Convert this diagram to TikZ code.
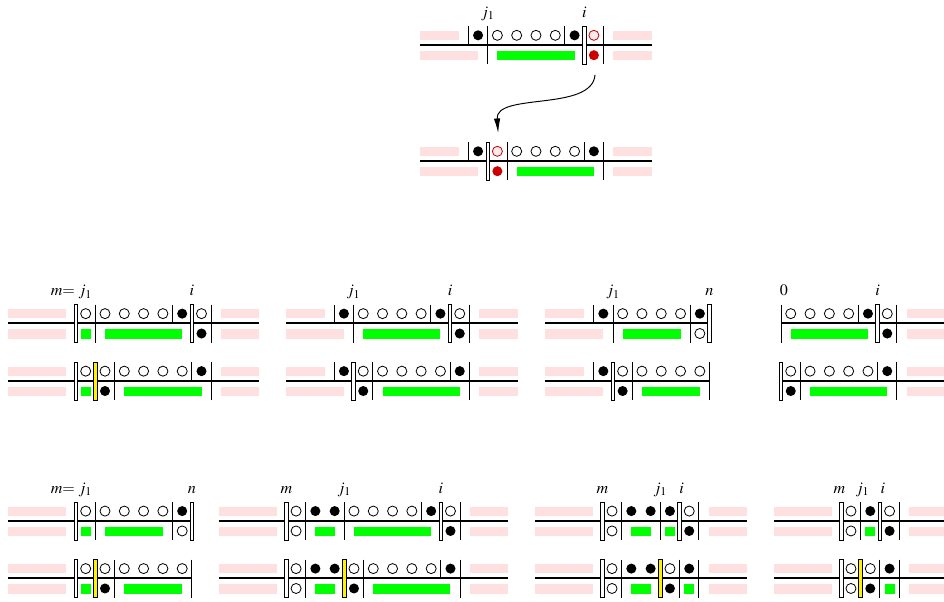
\documentclass[tikz,border=0pt]{standalone}
\usepackage{amsmath}
\usepackage{amssymb}
\usepackage{tikz}
\usepackage{xcolor}
\usepackage{mathptmx}
\usetikzlibrary{shapes, positioning, arrows.meta}

\definecolor{pinkbg}{RGB}{255,224,224}
\definecolor{darkred}{RGB}{204,0,0}

\tikzset{
    axisline/.style={line width=1.3pt},
    tickline/.style={line width=0.55pt},
    opendot/.style={draw, line width=0.5pt, fill=white},
    wallbar/.style={draw, line width=0.5pt, fill=white},
    yellowbar/.style={draw, line width=0.5pt, fill=yellow},
    lbl/.style={anchor=base, font=\normalsize, inner sep=0pt},
}

\begin{document}
\begin{tikzpicture}[x=12pt, y=12pt]
        \useasboundingbox (0,0) rectangle (48.91,-31.19);

        % top: before
        \begin{scope}[shift={(24.77,-2.33)}]
            \foreach \a/\b in {-3/-1, 7/9} \fill[pinkbg] (\a,0.26) rectangle (\b,0.73);
            \foreach \a/\b in {-3/0, 7/9} \fill[pinkbg] (\a,-0.32) rectangle (\b,-0.8);
            \fill[green] (1,-0.32) rectangle (5,-0.8);
            \draw[axisline] (-3,0) -- (9,0);
            \foreach \x in {-0.5, 4.5} \draw[tickline] (\x,0) -- (\x,0.97);
            \foreach \x in {0.5, 6.5} \draw[tickline] (\x,0.97) -- (\x,-1);
            \draw[wallbar] (5.41,0.97) rectangle (5.59,-1);
            \foreach \x in {1,...,4} \draw[opendot] (\x,0.5) circle (0.26);
            \foreach \x in {0, 5} \fill (\x,0.5) circle (0.26);
            \draw[opendot, draw=darkred, fill=red!8] (6,0.5) circle (0.26);
            \fill[darkred] (6,-0.53) circle (0.26);
            \node[lbl] (topj) at (0.5,1.42) {$j_1$};
            \node[lbl] (topi) at (5.5,1.42) {$i$};
            \coordinate (arrowstart) at (6.06,-1.55);
        \end{scope}

        % top: after
        \begin{scope}[shift={(24.77,-8.34)}]
            \foreach \a/\b in {-3/-1, 7/9} \fill[pinkbg] (\a,0.26) rectangle (\b,0.73);
            \foreach \a/\b in {-3/0, 7/9} \fill[pinkbg] (\a,-0.32) rectangle (\b,-0.8);
            \fill[green] (2,-0.32) rectangle (6,-0.8);
            \draw[axisline] (-3,0) -- (9,0);
            \foreach \x in {-0.5, 5.5} \draw[tickline] (\x,0) -- (\x,0.97);
            \foreach \x in {1.5, 6.5} \draw[tickline] (\x,0.97) -- (\x,-1);
            \draw[wallbar] (0.41,0.97) rectangle (0.59,-1);
            \foreach \x in {2,...,5} \draw[opendot] (\x,0.5) circle (0.26);
            \foreach \x in {0, 6} \fill (\x,0.5) circle (0.26);
            \draw[opendot, draw=darkred, fill=red!8] (1,0.5) circle (0.26);
            \fill[darkred] (1,-0.53) circle (0.26);
            \coordinate (arrowend) at (1.04,1.45);
        \end{scope}

        \draw[line width=0.6pt, -{Latex[length=9pt, width=4pt]}] (arrowstart)
            .. controls +(-0.16,-1.92) and +(-0.16,2.12) .. (arrowend);

        % middle row, first pair
        \begin{scope}[shift={(4.44,-16.75)}]
            \foreach \a/\b in {-4/-1, 7/9} {
                \fill[pinkbg] (\a,0.26) rectangle (\b,0.73);
                \fill[pinkbg] (\a,-0.32) rectangle (\b,-0.8);
            }
            \foreach \a/\b in {-0.26/0.26, 1/5} \fill[green] (\a,-0.32) rectangle (\b,-0.8);
            \draw[axisline] (-4,0) -- (9,0);
            \foreach \x in {4.5} \draw[tickline] (\x,0) -- (\x,0.97);
            \foreach \x in {0.5, 6.5} \draw[tickline] (\x,0.97) -- (\x,-1);
            \foreach \x in {-0.5, 5.5} \draw[wallbar] (\x-0.09,0.97) rectangle (\x+0.09,-1);
            \foreach \x in {0,...,4, 6} \draw[opendot] (\x,0.5) circle (0.26);
            \foreach \x in {5} \fill (\x,0.5) circle (0.26);
            \foreach \x in {6} \fill (\x,-0.53) circle (0.26);
            \node[lbl, anchor=base east] (mam) at (0.35,1.42) {$m{=}\;j_1$};
            \node[lbl] (mai) at (5.5,1.42) {$i$};
        \end{scope}
        \begin{scope}[shift={(4.44,-19.73)}]
            \foreach \a/\b in {-4/-1, 7/9} {
                \fill[pinkbg] (\a,0.26) rectangle (\b,0.73);
                \fill[pinkbg] (\a,-0.32) rectangle (\b,-0.8);
            }
            \foreach \a/\b in {-0.26/0.26, 2/6} \fill[green] (\a,-0.32) rectangle (\b,-0.8);
            \draw[axisline] (-4,0) -- (9,0);
            \foreach \x in {5.5} \draw[tickline] (\x,0) -- (\x,0.97);
            \foreach \x in {1.5, 6.5} \draw[tickline] (\x,0.97) -- (\x,-1);
            \foreach \x in {-0.5} \draw[wallbar] (\x-0.09,0.97) rectangle (\x+0.09,-1);
            \draw[yellowbar] (0.41,0.97) rectangle (0.59,-1);
            \foreach \x in {0,...,5} \draw[opendot] (\x,0.5) circle (0.26);
            \foreach \x in {6} \fill (\x,0.5) circle (0.26);
            \foreach \x in {1} \fill (\x,-0.53) circle (0.26);
        \end{scope}

        % middle row, second pair
        \begin{scope}[shift={(17.82,-16.75)}]
            \foreach \a/\b in {-3/-1, 7/9} \fill[pinkbg] (\a,0.26) rectangle (\b,0.73);
            \foreach \a/\b in {-3/0, 7/9} \fill[pinkbg] (\a,-0.32) rectangle (\b,-0.8);
            \fill[green] (1,-0.32) rectangle (5,-0.8);
            \draw[axisline] (-3,0) -- (9,0);
            \foreach \x in {-0.5, 4.5} \draw[tickline] (\x,0) -- (\x,0.97);
            \foreach \x in {0.5, 6.5} \draw[tickline] (\x,0.97) -- (\x,-1);
            \foreach \x in {5.5} \draw[wallbar] (\x-0.09,0.97) rectangle (\x+0.09,-1);
            \foreach \x in {1,...,4, 6} \draw[opendot] (\x,0.5) circle (0.26);
            \foreach \x in {0, 5} \fill (\x,0.5) circle (0.26);
            \foreach \x in {6} \fill (\x,-0.53) circle (0.26);
            \node[lbl] (mbj) at (0.5,1.42) {$j_1$};
            \node[lbl] (mbi) at (5.5,1.42) {$i$};
        \end{scope}
        \begin{scope}[shift={(17.82,-19.73)}]
            \foreach \a/\b in {-3/-1, 7/9} \fill[pinkbg] (\a,0.26) rectangle (\b,0.73);
            \foreach \a/\b in {-3/0, 7/9} \fill[pinkbg] (\a,-0.32) rectangle (\b,-0.8);
            \fill[green] (2,-0.32) rectangle (6,-0.8);
            \draw[axisline] (-3,0) -- (9,0);
            \foreach \x in {-0.5, 5.5} \draw[tickline] (\x,0) -- (\x,0.97);
            \foreach \x in {1.5, 6.5} \draw[tickline] (\x,0.97) -- (\x,-1);
            \foreach \x in {0.5} \draw[wallbar] (\x-0.09,0.97) rectangle (\x+0.09,-1);
            \foreach \x in {1,...,5} \draw[opendot] (\x,0.5) circle (0.26);
            \foreach \x in {0, 6} \fill (\x,0.5) circle (0.26);
            \foreach \x in {1} \fill (\x,-0.53) circle (0.26);
        \end{scope}

        % middle row, third pair
        \begin{scope}[shift={(31.26,-16.75)}]
            \fill[pinkbg] (-3,0.26) rectangle (-1,0.73);
            \fill[pinkbg] (-3,-0.32) rectangle (0,-0.8);
            \fill[green] (1,-0.32) rectangle (4,-0.8);
            \draw[axisline] (-3,0) -- (5.5,0);
            \foreach \x in {-0.5} \draw[tickline] (\x,0) -- (\x,0.97);
            \foreach \x in {0.5, 4.5} \draw[tickline] (\x,0.97) -- (\x,-1);
            \foreach \x in {5.5} \draw[wallbar] (\x-0.09,0.97) rectangle (\x+0.09,-1);
            \foreach \x in {1,...,4} \draw[opendot] (\x,0.5) circle (0.26);
            \foreach \x in {0, 5} \fill (\x,0.5) circle (0.26);
            \foreach \x in {5} \draw[opendot] (\x,-0.53) circle (0.26);
            \node[lbl] (mcj) at (0.5,1.42) {$j_1$};
            \node[lbl] (mcn) at (5.5,1.42) {$n$};
        \end{scope}
        \begin{scope}[shift={(31.26,-19.73)}]
            \fill[pinkbg] (-3,0.26) rectangle (-1,0.73);
            \fill[pinkbg] (-3,-0.32) rectangle (0,-0.8);
            \fill[green] (2,-0.32) rectangle (5,-0.8);
            \draw[axisline] (-3,0) -- (5.5,0);
            \foreach \x in {-0.5} \draw[tickline] (\x,0) -- (\x,0.97);
            \foreach \x in {1.5, 5.5} \draw[tickline] (\x,0.97) -- (\x,-1);
            \foreach \x in {0.5} \draw[wallbar] (\x-0.09,0.97) rectangle (\x+0.09,-1);
            \foreach \x in {1,...,5} \draw[opendot] (\x,0.5) circle (0.26);
            \foreach \x in {0} \fill (\x,0.5) circle (0.26);
            \foreach \x in {1} \fill (\x,-0.53) circle (0.26);
        \end{scope}

        % middle row, fourth pair
        \begin{scope}[shift={(40.97,-16.75)}]
            \fill[pinkbg] (6,0.26) rectangle (8,0.73);
            \fill[pinkbg] (6,-0.32) rectangle (8,-0.8);
            \fill[green] (0,-0.32) rectangle (4,-0.8);
            \draw[axisline] (-0.5,0) -- (8,0);
            \foreach \x in {3.5} \draw[tickline] (\x,0) -- (\x,0.97);
            \foreach \x in {-0.5, 5.5} \draw[tickline] (\x,0.97) -- (\x,-1);
            \foreach \x in {4.5} \draw[wallbar] (\x-0.09,0.97) rectangle (\x+0.09,-1);
            \foreach \x in {0,...,3, 5} \draw[opendot] (\x,0.5) circle (0.26);
            \foreach \x in {4} \fill (\x,0.5) circle (0.26);
            \foreach \x in {5} \fill (\x,-0.53) circle (0.26);
            \node[lbl] (md0) at (-0.35,1.42) {$0$};
            \node[lbl] (mdi) at (4.5,1.42) {$i$};
        \end{scope}
        \begin{scope}[shift={(40.97,-19.73)}]
            \fill[pinkbg] (6,0.26) rectangle (8,0.73);
            \fill[pinkbg] (6,-0.32) rectangle (8,-0.8);
            \fill[green] (1,-0.32) rectangle (5,-0.8);
            \draw[axisline] (-0.5,0) -- (8,0);
            \foreach \x in {4.5} \draw[tickline] (\x,0) -- (\x,0.97);
            \foreach \x in {0.5, 5.5} \draw[tickline] (\x,0.97) -- (\x,-1);
            \foreach \x in {-0.5} \draw[wallbar] (\x-0.09,0.97) rectangle (\x+0.09,-1);
            \foreach \x in {0,...,4} \draw[opendot] (\x,0.5) circle (0.26);
            \foreach \x in {5} \fill (\x,0.5) circle (0.26);
            \foreach \x in {0} \fill (\x,-0.53) circle (0.26);
        \end{scope}

        % bottom row, first pair
        \begin{scope}[shift={(4.44,-26.98)}]
            \fill[pinkbg] (-4,0.26) rectangle (-1,0.73);
            \fill[pinkbg] (-4,-0.32) rectangle (-1,-0.8);
            \foreach \a/\b in {-0.26/0.26, 1/4} \fill[green] (\a,-0.32) rectangle (\b,-0.8);
            \draw[axisline] (-4,0) -- (5.5,0);
            \foreach \x in {0.5, 4.5} \draw[tickline] (\x,0.97) -- (\x,-1);
            \foreach \x in {-0.5, 5.5} \draw[wallbar] (\x-0.09,0.97) rectangle (\x+0.09,-1);
            \foreach \x in {0,...,4} \draw[opendot] (\x,0.5) circle (0.26);
            \foreach \x in {5} \fill (\x,0.5) circle (0.26);
            \foreach \x in {5} \draw[opendot] (\x,-0.53) circle (0.26);
            \node[lbl, anchor=base east] (bam) at (0.35,1.42) {$m{=}\;j_1$};
            \node[lbl] (ban) at (5.5,1.42) {$n$};
        \end{scope}
        \begin{scope}[shift={(4.44,-29.96)}]
            \fill[pinkbg] (-4,0.26) rectangle (-1,0.73);
            \fill[pinkbg] (-4,-0.32) rectangle (-1,-0.8);
            \foreach \a/\b in {-0.26/0.26, 2/5} \fill[green] (\a,-0.32) rectangle (\b,-0.8);
            \draw[axisline] (-4,0) -- (5.5,0);
            \foreach \x in {1.5, 5.5} \draw[tickline] (\x,0.97) -- (\x,-1);
            \foreach \x in {-0.5} \draw[wallbar] (\x-0.09,0.97) rectangle (\x+0.09,-1);
            \draw[yellowbar] (0.41,0.97) rectangle (0.59,-1);
            \foreach \x in {0,...,5} \draw[opendot] (\x,0.5) circle (0.26);
            \foreach \x in {1} \fill (\x,-0.53) circle (0.26);
        \end{scope}

        % bottom row, second pair
        \begin{scope}[shift={(15.34,-26.98)}]
            \foreach \a/\b in {-4/-1, 9/11} {
                \fill[pinkbg] (\a,0.26) rectangle (\b,0.73);
                \fill[pinkbg] (\a,-0.32) rectangle (\b,-0.8);
            }
            \foreach \a/\b in {1/2, 3/7} \fill[green] (\a,-0.32) rectangle (\b,-0.8);
            \draw[axisline] (-4,0) -- (11,0);
            \foreach \x in {6.5} \draw[tickline] (\x,0) -- (\x,0.97);
            \foreach \x in {0.5, 2.5, 8.5} \draw[tickline] (\x,0.97) -- (\x,-1);
            \foreach \x in {-0.5, 7.5} \draw[wallbar] (\x-0.09,0.97) rectangle (\x+0.09,-1);
            \foreach \x in {0, 3, 4, 5, 6, 8} \draw[opendot] (\x,0.5) circle (0.26);
            \foreach \x in {1, 2, 7} \fill (\x,0.5) circle (0.26);
            \foreach \x in {0} \draw[opendot] (\x,-0.53) circle (0.26);
            \foreach \x in {8} \fill (\x,-0.53) circle (0.26);
            \node[lbl] (bbm) at (-0.5,1.42) {$m$};
            \node[lbl] (bbj) at (2.5,1.42) {$j_1$};
            \node[lbl] (bbi) at (7.5,1.42) {$i$};
        \end{scope}
        \begin{scope}[shift={(15.34,-29.96)}]
            \foreach \a/\b in {-4/-1, 9/11} {
                \fill[pinkbg] (\a,0.26) rectangle (\b,0.73);
                \fill[pinkbg] (\a,-0.32) rectangle (\b,-0.8);
            }
            \foreach \a/\b in {1/2, 4/8} \fill[green] (\a,-0.32) rectangle (\b,-0.8);
            \draw[axisline] (-4,0) -- (11,0);
            \foreach \x in {7.5} \draw[tickline] (\x,0) -- (\x,0.97);
            \foreach \x in {0.5, 3.5, 8.5} \draw[tickline] (\x,0.97) -- (\x,-1);
            \foreach \x in {-0.5} \draw[wallbar] (\x-0.09,0.97) rectangle (\x+0.09,-1);
            \draw[yellowbar] (2.41,0.97) rectangle (2.59,-1);
            \foreach \x in {0, 3, 4, 5, 6, 7} \draw[opendot] (\x,0.5) circle (0.26);
            \foreach \x in {1, 2, 8} \fill (\x,0.5) circle (0.26);
            \foreach \x in {0} \draw[opendot] (\x,-0.53) circle (0.26);
            \foreach \x in {3} \fill (\x,-0.53) circle (0.26);
        \end{scope}

        % bottom row, third pair
        \begin{scope}[shift={(31.71,-26.98)}]
            \foreach \a/\b in {-4/-1, 5/7} {
                \fill[pinkbg] (\a,0.26) rectangle (\b,0.73);
                \fill[pinkbg] (\a,-0.32) rectangle (\b,-0.8);
            }
            \foreach \a/\b in {1/2, 2.74/3.26} \fill[green] (\a,-0.32) rectangle (\b,-0.8);
            \draw[axisline] (-4,0) -- (7,0);
            \foreach \x in {0.5, 2.5, 4.5} \draw[tickline] (\x,0.97) -- (\x,-1);
            \foreach \x in {-0.5, 3.5} \draw[wallbar] (\x-0.09,0.97) rectangle (\x+0.09,-1);
            \foreach \x in {0, 4} \draw[opendot] (\x,0.5) circle (0.26);
            \foreach \x in {1, 2, 3} \fill (\x,0.5) circle (0.26);
            \foreach \x in {0} \draw[opendot] (\x,-0.53) circle (0.26);
            \foreach \x in {4} \fill (\x,-0.53) circle (0.26);
            \node[lbl] (bcm) at (-0.5,1.42) {$m$};
            \node[lbl] (bcj) at (2.5,1.42) {$j_1$};
            \node[lbl] (bci) at (3.6,1.42) {$i$};
        \end{scope}
        \begin{scope}[shift={(31.71,-29.96)}]
            \foreach \a/\b in {-4/-1, 5/7} {
                \fill[pinkbg] (\a,0.26) rectangle (\b,0.73);
                \fill[pinkbg] (\a,-0.32) rectangle (\b,-0.8);
            }
            \foreach \a/\b in {1/2, 3.74/4.26} \fill[green] (\a,-0.32) rectangle (\b,-0.8);
            \draw[axisline] (-4,0) -- (7,0);
            \foreach \x in {0.5, 3.5, 4.5} \draw[tickline] (\x,0.97) -- (\x,-1);
            \foreach \x in {-0.5} \draw[wallbar] (\x-0.09,0.97) rectangle (\x+0.09,-1);
            \draw[yellowbar] (2.41,0.97) rectangle (2.59,-1);
            \foreach \x in {0, 3} \draw[opendot] (\x,0.5) circle (0.26);
            \foreach \x in {1, 2, 4} \fill (\x,0.5) circle (0.26);
            \foreach \x in {0} \draw[opendot] (\x,-0.53) circle (0.26);
            \foreach \x in {3} \fill (\x,-0.53) circle (0.26);
        \end{scope}

        % bottom row, fourth pair
        \begin{scope}[shift={(44.09,-26.98)}]
            \foreach \a/\b in {-4/-1, 3/5} {
                \fill[pinkbg] (\a,0.26) rectangle (\b,0.73);
                \fill[pinkbg] (\a,-0.32) rectangle (\b,-0.8);
            }
            \fill[green] (0.74,-0.32) rectangle (1.26,-0.8);
            \draw[axisline] (-4,0) -- (5,0);
            \foreach \x in {0.5, 2.5} \draw[tickline] (\x,0.97) -- (\x,-1);
            \foreach \x in {-0.5, 1.5} \draw[wallbar] (\x-0.09,0.97) rectangle (\x+0.09,-1);
            \foreach \x in {0, 2} \draw[opendot] (\x,0.5) circle (0.26);
            \foreach \x in {1} \fill (\x,0.5) circle (0.26);
            \foreach \x in {0} \draw[opendot] (\x,-0.53) circle (0.26);
            \foreach \x in {2} \fill (\x,-0.53) circle (0.26);
            \node[lbl] (bdm) at (-0.6,1.42) {$m$};
            \node[lbl] (bdj) at (0.6,1.42) {$j_1$};
            \node[lbl] (bdi) at (1.65,1.42) {$i$};
        \end{scope}
        \begin{scope}[shift={(44.09,-29.96)}]
            \foreach \a/\b in {-4/-1, 3/5} {
                \fill[pinkbg] (\a,0.26) rectangle (\b,0.73);
                \fill[pinkbg] (\a,-0.32) rectangle (\b,-0.8);
            }
            \fill[green] (1.74,-0.32) rectangle (2.26,-0.8);
            \draw[axisline] (-4,0) -- (5,0);
            \foreach \x in {1.5, 2.5} \draw[tickline] (\x,0.97) -- (\x,-1);
            \foreach \x in {-0.5} \draw[wallbar] (\x-0.09,0.97) rectangle (\x+0.09,-1);
            \draw[yellowbar] (0.41,0.97) rectangle (0.59,-1);
            \foreach \x in {0, 1} \draw[opendot] (\x,0.5) circle (0.26);
            \foreach \x in {2} \fill (\x,0.5) circle (0.26);
            \foreach \x in {0} \draw[opendot] (\x,-0.53) circle (0.26);
            \foreach \x in {1} \fill (\x,-0.53) circle (0.26);
        \end{scope}
    \end{tikzpicture}
\end{document}
